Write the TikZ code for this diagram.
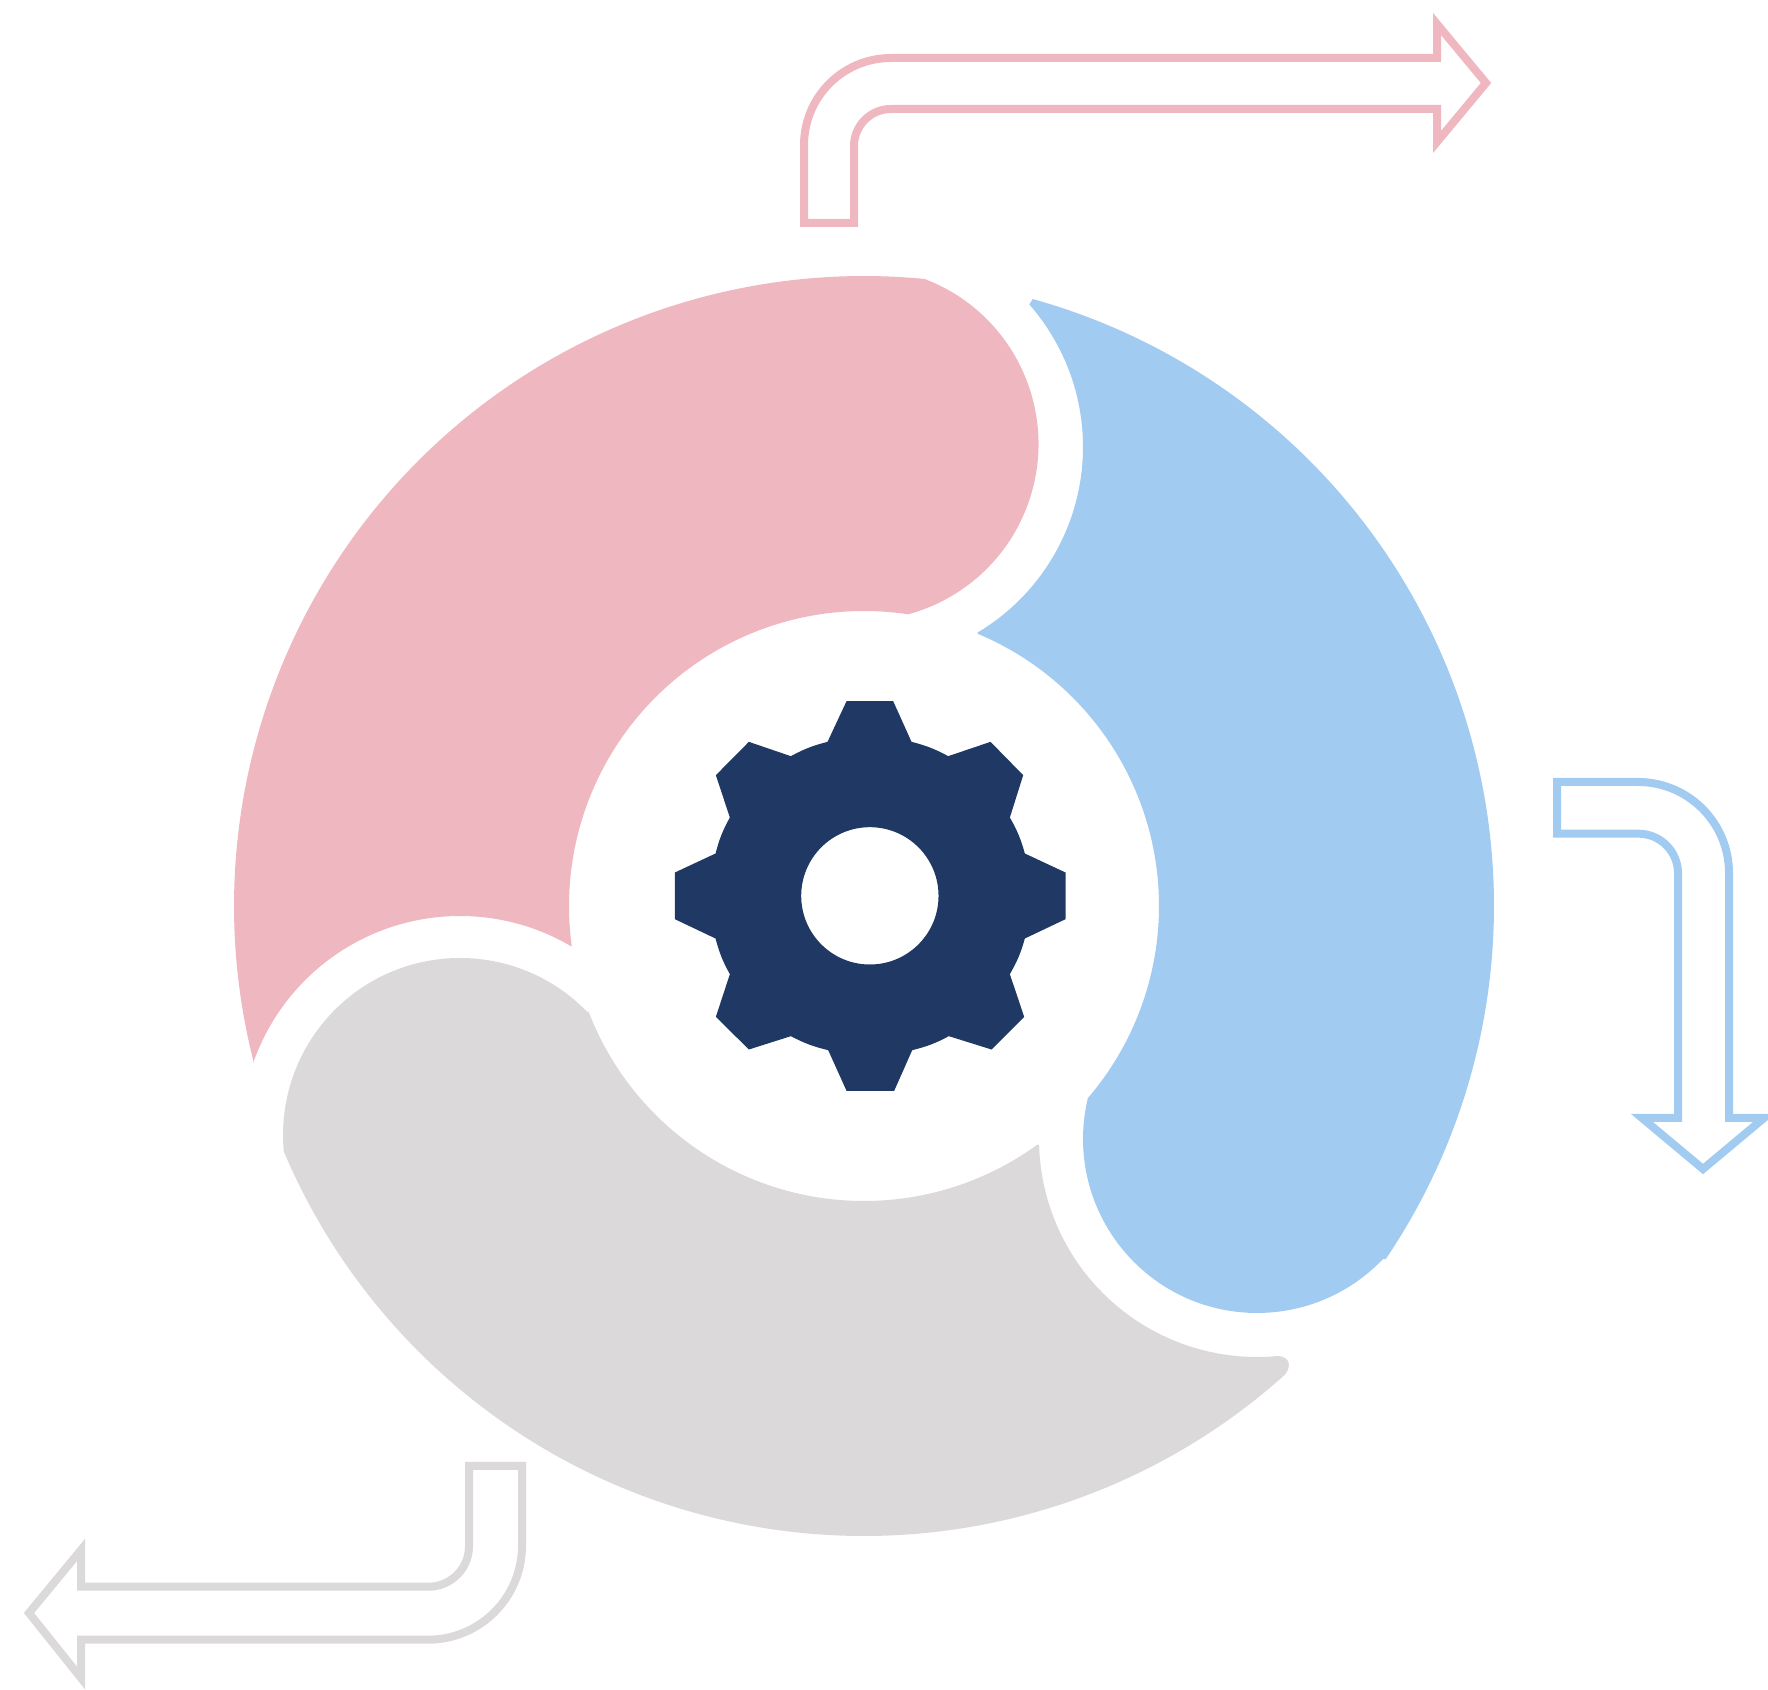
\documentclass[tikz,border=0pt]{standalone}
\usetikzlibrary{calc}
\definecolor{pinkc}{HTML}{EFB8C1}
\definecolor{bluec}{HTML}{A2CBF2}
\definecolor{greyc}{HTML}{DBD9DA}
\definecolor{navyc}{HTML}{1F3864}
\tikzset{
  petal/.style={fill=#1,draw=none},
  bentarrow/.style={draw=#1,line width=0.16cm,fill=white,miter limit=10}
}
\begin{document}
\begin{tikzpicture}[x=0.02cm,y=0.02cm]
\useasboundingbox (0,0) rectangle (1768,1690);
\coordinate (C) at (864,784);
\coordinate (P) at (867,1243);
\coordinate (Q) at (862,1246);
\coordinate (B) at (1257,551);
\coordinate (G) at (460,555);
% pink
\path[petal=pinkc]
  ($(C)+(194.4:630)$) arc[start angle=194.4,end angle=84.45,radius=630]
  -- ($(Q)+(68.8:176.5)$) arc[start angle=68.8,end angle=-74.8,radius=176.5]
  -- ($(C)+(81.4:295)$) arc[start angle=81.4,end angle=187.8,radius=295]
  -- ($(G)+(59.5:219)$) arc[start angle=59.5,end angle=160.8,radius=219]
  -- cycle;
% blue
\path[petal=bluec]
  ($(C)+(74.46:630)$) arc[start angle=74.46,end angle=-34.1,radius=630]
  -- ($(B)+(-43.5:174)$) arc[start angle=-43.5,end angle=-193.3,radius=174]
  -- ($(C)+(-40.75:295)$) arc[start angle=-40.75,end angle=67.3,radius=295]
  -- ($(P)+(-59.2:216)$) arc[start angle=-59.2,end angle=41.3,radius=216]
  -- cycle;
% grey
\path[petal=greyc]
  ($(C)+(203:630)$) arc[start angle=203,end angle=311.5,radius=630]
  .. controls (1292,320) and (1292,334) .. ($(B)+(-84.7:218)$)
  arc[start angle=-84.7,end angle=-178.4,radius=218]
  -- ($(C)+(-54:295)$) arc[start angle=-54,end angle=-159,radius=295]
  -- ($(G)+(44:177)$) arc[start angle=44,end angle=185.5,radius=177]
  -- cycle;
% gear
\begin{scope}[shift={(13cm,20.2cm)},x=0.0066667cm,y=-0.0066667cm]
\fill[navyc,even odd rule]
  (590,63) -- (730,63) -- (785,185) to[bend left=7] (895,228) -- (1022,185)
  -- (1120,285) -- (1080,412) to[bend left=7] (1125,520) -- (1247,577)
  -- (1247,717) -- (1125,775) to[bend left=7] (1080,882) -- (1123,1010)
  -- (1025,1108) -- (897,1068) to[bend left=7] (787,1110) -- (733,1232)
  -- (590,1232) -- (535,1110) to[bend left=7] (423,1068) -- (297,1108)
  -- (198,1010) -- (240,882) to[bend left=7] (197,775) -- (75,717)
  -- (75,577) -- (197,520) to[bend left=7] (240,412) -- (198,285)
  -- (297,185) -- (423,228) to[bend left=7] (533,185) -- cycle
  (660,647) circle[radius=206];
\end{scope}
% pink arrow
\draw[bentarrow=pinkc]
  (804,1467) -- (804,1545) arc[start angle=180,end angle=90,radius=87]
  -- (1437,1632) -- (1437,1666) -- (1486,1607) -- (1437,1548) -- (1437,1581)
  -- (891,1581) arc[start angle=90,end angle=180,radius=37]
  -- (854,1467) -- cycle;
% blue arrow
\draw[bentarrow=bluec]
  (1557,908) -- (1638,908) arc[start angle=90,end angle=0,radius=91]
  -- (1729,572) -- (1764,572) -- (1703,521) -- (1642,572) -- (1678,572)
  -- (1678,816.7) arc[start angle=0,end angle=90,radius=39.6]
  -- (1557,856.3) -- cycle;
% grey arrow
\draw[bentarrow=greyc]
  (469,224) -- (469,143.8) arc[start angle=0,end angle=-90,radius=40.5]
  -- (81,103.3) -- (81,140) -- (29,77) -- (81,12) -- (81,50.3)
  -- (428,50.3) arc[start angle=-90,end angle=0,radius=94]
  -- (522,224) -- cycle;
\end{tikzpicture}
\end{document}
